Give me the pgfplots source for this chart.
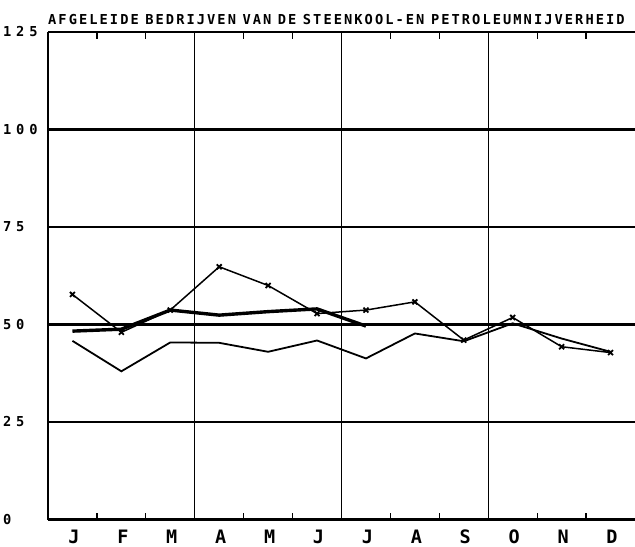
\documentclass[border=0pt]{standalone}
\usepackage{fontspec}
\usepackage{pgfplots}
\pgfplotsset{compat=1.18}
\newfontfamily\titlef[LetterSpace=15]{DejaVu Sans Mono Bold}
\newfontfamily\ylabf[LetterSpace=35]{DejaVu Sans Mono Bold}
\newfontfamily\xlabf{DejaVu Sans Mono Bold}
\newcommand\ws{\hspace{6.5bp}}
\begin{document}
\begin{tikzpicture}
\useasboundingbox (-48bp,-27.5bp) rectangle (587bp,519.5bp);
\begin{axis}[
  at={(0,0)}, anchor=south west,
  scale only axis, width=587bp, height=487.5bp,
  xmin=0, xmax=12, ymin=0, ymax=125,
  clip=false,
  axis line style={draw=none},
  xtick={0.5,1.5,2.5,3.5,4.5,5.5,6.5,7.5,8.5,9.5,10.5,11.5},
  xticklabels={J,F,M,A,M,J,J,A,S,O,N,D},
  minor xtick={1,2,4,5,7,8,10,11},
  xtick pos=both,
  major tick length=0pt,
  minor tick length=7bp,
  tick align=inside,
  minor tick style={line width=1.3bp, black},
  ytick={0,25,50,75,100,125},
  yticklabels={0,25,50,75,100,125},
  ymajorgrids,
  major grid style={line width=2.2bp, black},
  extra x ticks={0,3,6,9},
  extra x tick labels={},
  extra x tick style={grid=major, major grid style={line width=1.4bp, black}, major tick length=0pt},
  yticklabel style={anchor=west, xshift=-45bp, inner sep=0pt, font=\ylabf\fontsize{13.7bp}{16bp}\selectfont},
  xticklabel style={anchor=base, xshift=1.5bp, yshift=-24bp, inner sep=0pt, font=\xlabf\fontsize{18.5bp}{21bp}\selectfont},
  title={AFGELEIDE\ws BEDRIJVEN\ws VAN\ws DE\ws STEENKOOL-EN\ws PETROLEUMNIJVERHEID},
  title style={at={(0,1)}, anchor=base west, yshift=2bp, inner sep=0pt, font=\titlef\fontsize{13.7bp}{16bp}\selectfont},
]
\addplot[line width=1.5bp, black, mark=x, mark size=3.5bp, mark options={line width=1.8bp}] coordinates {
(0.5,57.7)(1.5,48.0)(2.5,53.7)(3.5,64.8)(4.5,60.0)(5.5,52.8)(6.5,53.7)(7.5,55.8)(8.5,46.0)(9.5,51.8)(10.5,44.3)(11.5,42.8)};
\addplot[line width=3.4bp, black] coordinates {
(0.5,48.3)(1.5,48.8)(2.5,53.7)(3.5,52.4)(4.5,53.3)(5.5,54.0)(6.5,49.6)};
\addplot[line width=1.8bp, black] coordinates {
(0.5,45.8)(1.5,38.0)(2.5,45.4)(3.5,45.3)(4.5,43.0)(5.5,45.9)(6.5,41.3)(7.5,47.7)(8.5,45.7)(9.5,50.3)(10.5,46.4)(11.5,43.0)};
\end{axis}
\end{tikzpicture}
\end{document}
